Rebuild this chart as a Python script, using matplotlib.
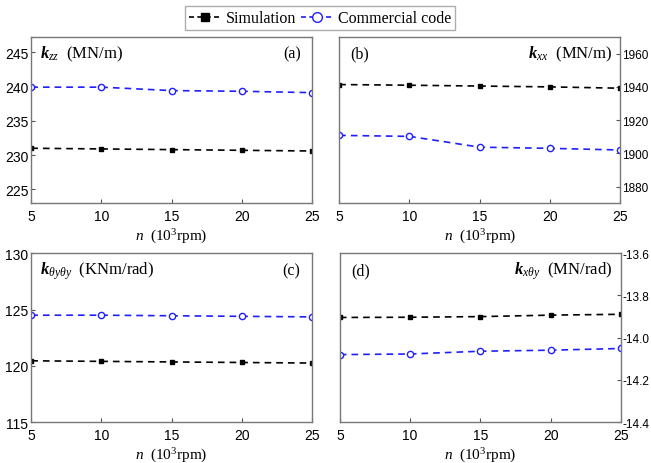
import matplotlib
matplotlib.use("Agg")
import matplotlib.pyplot as plt
from matplotlib.lines import Line2D

# velocidade de rotação (10^3 rpm)
n_rpm = [5, 10, 15, 20, 25]

kzz_sim = [231.0, 230.9, 230.8, 230.7, 230.6]
kzz_com = [239.9, 239.9, 239.4, 239.3, 239.1]

kxx_sim = [1941.4, 1941.0, 1940.5, 1940.0, 1939.2]
kxx_com = [1910.8, 1910.2, 1903.7, 1903.0, 1902.0]

kthth_sim = [120.45, 120.4, 120.35, 120.3, 120.25]
kthth_com = [124.5, 124.5, 124.45, 124.4, 124.35]

kxth_sim = [-13.904, -13.903, -13.900, -13.893, -13.889]
kxth_com = [-14.080, -14.077, -14.064, -14.059, -14.051]

xticks = [5, 10, 15, 20, 25]

serif = "Liberation Serif"
sans = "Liberation Sans"
plt.rcParams["mathtext.fontset"] = "custom"
plt.rcParams["mathtext.rm"] = serif
plt.rcParams["mathtext.it"] = serif + ":italic"
plt.rcParams["mathtext.bf"] = serif + ":bold:italic"

fig = plt.figure(figsize=(6.51, 4.64), dpi=100)

panels = [
    # (pos, sim, com, ylim, yticks, right axis, label, tag)
    ([0.048, 0.560, 0.431, 0.358], kzz_sim, kzz_com, (223, 247.2),
     [225, 230, 235, 240, 245], False, r"$\mathbf{k}_{zz}$  (MN/m)", "(a)"),
    ([0.521, 0.560, 0.432, 0.358], kxx_sim, kxx_com, (1870, 1970),
     [1880, 1900, 1920, 1940, 1960], True, r"$\mathbf{k}_{xx}$  (MN/m)", "(b)"),
    ([0.048, 0.088, 0.431, 0.364], kthth_sim, kthth_com, (115, 130),
     [115, 120, 125, 130], False, r"$\mathbf{k}_{\theta y\theta y}$  (KNm/rad)", "(c)"),
    ([0.522, 0.088, 0.432, 0.364], kxth_sim, kxth_com, (-14.4, -13.6),
     [-14.4, -14.2, -14.0, -13.8, -13.6], True, r"$\mathbf{k}_{x\theta y}$  (MN/rad)", "(d)"),
]

for pos, sim, com, ylim, yt, right, label, tag in panels:
    ax = fig.add_axes(pos)
    ax.plot(n_rpm, sim, "--", color="black", lw=1.2, marker="s", ms=3,
            dashes=(4, 3))
    ax.plot(n_rpm, com, "--", color="#1f1fff", lw=1.2, marker="o", ms=4.5,
            mfc="white", mec="#1f1fff", dashes=(4, 3))
    ax.set_xlim(5, 25)
    ax.set_ylim(*ylim)
    ax.set_xticks(xticks)
    ax.set_yticks(yt)
    ax.tick_params(direction="in", length=3, labelsize=10, color="#555555", pad=2)
    ax.tick_params(axis="x", pad=4)
    if right:
        ax.yaxis.tick_right()
        ax.set_yticklabels([f"{v:.1f}" if abs(v) < 100 else f"{v:g}" for v in yt])
        ax.tick_params(axis="y", labelsize=8.5, pad=1)
        ax.text(0.97, 0.9, label, transform=ax.transAxes, ha="right", va="center",
                fontsize=12, family=serif)
        ax.text(0.04, 0.9, tag, transform=ax.transAxes, ha="left", va="center",
                fontsize=11.5, family=serif)
    else:
        ax.text(0.03, 0.9, label, transform=ax.transAxes, ha="left", va="center",
                fontsize=12, family=serif)
        ax.text(0.96, 0.9, tag, transform=ax.transAxes, ha="right", va="center",
                fontsize=11.5, family=serif)
    for lab in ax.get_xticklabels() + ax.get_yticklabels():
        lab.set_family(sans)
    for sp in ax.spines.values():
        sp.set_edgecolor("#777777")
        sp.set_linewidth(1.0)
    ax.set_xlabel(r"$n$  ($10^3$rpm$)$", fontsize=11, family=serif, labelpad=3)

handles = [
    Line2D([], [], ls="--", color="black", marker="s", ms=6, lw=1.2, dashes=(3, 2)),
    Line2D([], [], ls="--", color="#1f1fff", marker="o", ms=7, mfc="white", lw=1.2,
           dashes=(3, 2)),
]
fig.legend(handles, ["Simulation", "Commercial code"], loc="center",
           bbox_to_anchor=(0.492, 0.958), ncol=2, frameon=True, fancybox=False,
           edgecolor="#999999", prop={"family": serif, "size": 11.5},
           handlelength=2.0, columnspacing=0.3, handletextpad=0.3,
           borderpad=0.25)

fig.savefig("out.png", dpi=100)
